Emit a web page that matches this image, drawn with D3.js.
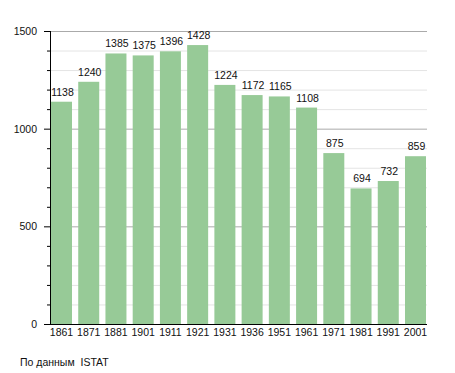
<!DOCTYPE html>
<html>
<head>
<meta charset="utf-8">
<script src="https://cdn.jsdelivr.net/npm/d3@7"></script>
<style>
  body { margin: 0; background: #fff; }
  text { font-family: "Liberation Sans", Arial, sans-serif; font-size: 10.5px; fill: #111; white-space: pre; }
</style>
</head>
<body>
<script>
// census years and population
const years = ['1861', '1871', '1881', '1901', '1911', '1921', '1931', '1936', '1951', '1961', '1971', '1981', '1991', '2001'];
const population = [1138, 1240, 1385, 1375, 1396, 1428, 1224, 1172, 1165, 1108, 875, 694, 732, 859];
const majorTicks = [0, 500, 1000, 1500];
const minorTicks = d3.range(0, 1501, 100);
const source = 'По данным  ISTAT';

const svg = d3.select('body').append('svg')
  .attr('width', 455)
  .attr('height', 373);

const y = d3.scaleLinear().domain([0, 1500]).range([324, 31]);
const x = d3.scaleBand().domain(years).range([51, 426]).paddingInner(0.229).paddingOuter(0);

// gridlines
svg.selectAll('.minor')
  .data(minorTicks.filter(d => d % 500 !== 0))
  .enter().append('line')
  .attr('x1', 50).attr('x2', 427)
  .attr('y1', d => y(d) + 0.5).attr('y2', d => y(d) + 0.5)
  .attr('stroke', '#e4e4e4');

svg.selectAll('.major')
  .data(majorTicks.filter(d => d > 0))
  .enter().append('line')
  .attr('x1', 50).attr('x2', 427)
  .attr('y1', d => y(d) + 0.5).attr('y2', d => y(d) + 0.5)
  .attr('stroke', '#aaa');

// bars
svg.selectAll('rect')
  .data(population)
  .enter().append('rect')
  .attr('x', (d, i) => x(years[i]))
  .attr('y', d => y(d))
  .attr('width', x.bandwidth())
  .attr('height', d => y(0) - y(d))
  .attr('fill', '#97ca97');

// value labels
svg.selectAll('.val')
  .data(population)
  .enter().append('text')
  .attr('x', (d, i) => x(years[i]) + x.bandwidth() / 2 + 1)
  .attr('y', d => y(d) - 6)
  .attr('text-anchor', 'middle')
  .text(d => d);

// y axis
svg.append('line')
  .attr('x1', 50.5).attr('x2', 50.5)
  .attr('y1', y(1500)).attr('y2', y(0))
  .attr('stroke', '#000');

svg.selectAll('.ytick')
  .data(minorTicks)
  .enter().append('line')
  .attr('x1', d => d % 500 === 0 ? 44 : 47).attr('x2', 50)
  .attr('y1', d => y(d) + 0.5).attr('y2', d => y(d) + 0.5)
  .attr('stroke', '#000');

svg.selectAll('.ylab')
  .data(majorTicks)
  .enter().append('text')
  .attr('x', 37)
  .attr('y', d => y(d) + 4)
  .attr('text-anchor', 'end')
  .text(d => d);

// x axis
svg.append('line')
  .attr('x1', 45).attr('x2', 427)
  .attr('y1', y(0) + 0.5).attr('y2', y(0) + 0.5)
  .attr('stroke', '#000');

svg.selectAll('.xlab')
  .data(years)
  .enter().append('text')
  .attr('x', d => x(d) + x.bandwidth() / 2)
  .attr('y', 336)
  .attr('text-anchor', 'middle')
  .text(d => d);

svg.append('text')
  .attr('x', 20)
  .attr('y', 366)
  .text(source);
</script>
</body>
</html>
